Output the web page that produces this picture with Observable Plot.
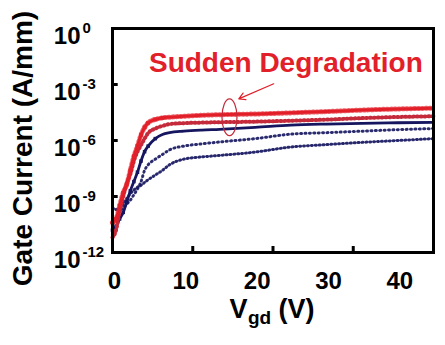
<!DOCTYPE html>
<html>
<head>
<meta charset="utf-8">
<script src="https://cdn.jsdelivr.net/npm/d3@7"></script>
<script src="https://cdn.jsdelivr.net/npm/@observablehq/plot@0.6"></script>
<style>
  html, body { margin: 0; padding: 0; background: #fff; }
  #chart svg { display: block; }
</style>
</head>
<body>
<div id="chart"></div>
<script>
// Gate-drain voltage (V) sample points
const vgd = [0, 0.5, 1, 1.5, 2, 2.5, 3, 3.5, 4, 4.5, 5, 6, 7, 8, 10, 12.5, 15, 20, 25, 30, 35, 40, 45];
// log10 of gate current (A/mm) for each curve
const redThick = [-10.4, -10.2, -9.5, -8.8, -8.35, -7.6, -6.85, -6.3, -5.7, -5.3, -5.05, -4.87, -4.79, -4.75, -4.7, -4.65, -4.62, -4.58, -4.52, -4.45, -4.37, -4.31, -4.27];
const redThin  = [-11.2, -10.8, -9.8, -9.0, -8.3, -7.8, -7.1, -6.6, -6.25, -5.9, -5.6, -5.36, -5.22, -5.12, -5.07, -5.04, -5.02, -4.99, -4.94, -4.88, -4.8, -4.74, -4.7];
const navyThick = [-10.8, -10.6, -10.2, -9.85, -9.3, -8.7, -8.2, -7.7, -7.1, -6.6, -6.3, -5.9, -5.68, -5.58, -5.5, -5.44, -5.4, -5.3, -5.18, -5.12, -5.08, -5.05, -5.03];
const navyDotA = [-10.5, -10.2, -9.8, -9.6, -9.4, -9.2, -8.9, -8.6, -8.2, -7.6, -7.3, -7.0, -6.75, -6.5, -6.3, -6.18, -6.08, -5.9, -5.66, -5.58, -5.5, -5.42, -5.36];
const navyDotB = [-9.6, -9.7, -9.6, -9.4, -9.1, -8.85, -8.65, -8.5, -8.4, -8.25, -8.1, -7.85, -7.6, -7.3, -7.0, -6.88, -6.8, -6.62, -6.35, -6.22, -6.1, -6.0, -5.9];

const xTickLabels = [0, 10, 20, 30, 40];
const xTickMarks = [11.25, 22.5, 33.75];
const yExponents = [0, -3, -6, -9, -12];
const yTickMarks = [-3, -6, -9];

const RED = "#e2202a";
const RED_THIN = "#c42a3a";
const NAVY = "#161660";

const rows = s => vgd.map((v, i) => ({v, i: Math.pow(10, s[i])}));
const rT = rows(redThick), rN = rows(redThin), nT = rows(navyThick), dA = rows(navyDotA), dB = rows(navyDotB);

const ellipseSymbol = {
  draw(context, size) {
    const r = Math.sqrt(size / Math.PI), rx = r, ry = r * 2.45, k = 0.5523;
    context.moveTo(rx, 0);
    context.bezierCurveTo(rx, ry * k, rx * k, ry, 0, ry);
    context.bezierCurveTo(-rx * k, ry, -rx, ry * k, -rx, 0);
    context.bezierCurveTo(-rx, -ry * k, -rx * k, -ry, 0, -ry);
    context.bezierCurveTo(rx * k, -ry, rx, -ry * k, rx, 0);
    context.closePath();
  }
};

const FONT = "'Liberation Sans', Arial, sans-serif";
const lineOpts = {x: "v", y: "i", curve: "monotone-x"};
const txt = {fontWeight: "bold", fill: "#000", lineAnchor: "middle"};

const chart = Plot.plot({
  width: 445,
  height: 345,
  marginLeft: 112,
  marginRight: 12,
  marginTop: 28,
  marginBottom: 93,
  style: {fontFamily: FONT, fontWeight: "bold", background: "#fff", overflow: "visible"},
  x: {domain: [0, 45], axis: null},
  y: {type: "log", domain: [1e-12, 1], axis: null},
  marks: [
    // dotted navy curves
    Plot.line(dB, {...lineOpts, stroke: NAVY, strokeWidth: 0.6, strokeOpacity: 0.8}),
    Plot.line(dB, {...lineOpts, stroke: NAVY, strokeWidth: 3, strokeDasharray: "0.9,3", strokeOpacity: 0.9}),
    Plot.line(dA, {...lineOpts, stroke: NAVY, strokeWidth: 0.4, strokeOpacity: 0.6}),
    Plot.line(dA, {...lineOpts, stroke: NAVY, strokeWidth: 3, strokeDasharray: "0.9,3.5", strokeOpacity: 0.9}),
    // navy thick
    Plot.line(nT, {...lineOpts, stroke: NAVY, strokeWidth: 2.8}),
    Plot.dot(nT.slice(0, 12), {x: "v", y: "i", symbol: "square", r: 2, fill: NAVY}),
    // thin red
    Plot.line(rN, {...lineOpts, stroke: RED_THIN, strokeWidth: 1.1}),
    Plot.line(rN, {...lineOpts, stroke: RED_THIN, strokeWidth: 4, strokeDasharray: "0.9,3"}),
    // red thick
    Plot.line(rT, {...lineOpts, stroke: RED, strokeWidth: 3}),
    Plot.line(rT, {...lineOpts, stroke: RED, strokeWidth: 5, strokeDasharray: "0.9,3", strokeOpacity: 0.7}),
    Plot.dot(rT.slice(0, 13), {x: "v", y: "i", symbol: "square", r: 2.2, fill: RED}),
    // frame and inward ticks
    Plot.frame({stroke: "#000", strokeWidth: 3}),
    Plot.ruleX(xTickMarks, {x: d => d, y1: 1e-12, y2: Math.pow(10, -11.68), stroke: "#000", strokeWidth: 3}),
    Plot.ruleY(yTickMarks, {y: d => Math.pow(10, d), x1: 0, x2: 0.8, stroke: "#000", strokeWidth: 3}),
    // x tick labels
    Plot.text(xTickLabels, {...txt, x: d => d, frameAnchor: "bottom", dy: 29, dx: 2, text: d => String(d), textAnchor: "middle", fontSize: 24}),
    // y tick labels 10^n
    Plot.text(yExponents, {...txt, y: d => Math.pow(10, d), frameAnchor: "left", dx: -32, dy: 8, text: () => "10", textAnchor: "end", fontSize: 24}),
    Plot.text(yExponents, {...txt, y: d => Math.pow(10, d), frameAnchor: "left", dx: -30, dy: 0, text: d => (d === 0 ? "0" : "-" + String(-d)), textAnchor: "start", fontSize: 15}),
    // axis titles
    Plot.text(["Gate Current (A/mm)"], {...txt, frameAnchor: "left", dx: -89, dy: 8, rotate: -90, textAnchor: "middle", text: d => d, fontSize: 28}),
    Plot.text(["V"], {...txt, frameAnchor: "bottom", dx: -25.5, dy: 57, text: d => d, textAnchor: "end", fontSize: 27}),
    Plot.text(["gd"], {...txt, frameAnchor: "bottom", dx: -25, dy: 65, text: d => d, textAnchor: "start", fontSize: 19}),
    Plot.text(["(V)"], {...txt, frameAnchor: "bottom", dx: 5.5, dy: 57, text: d => d, textAnchor: "start", fontSize: 27}),
    // annotation
    Plot.text(["Sudden Degradation"], {x: 24.3, y: Math.pow(10, -1.87), text: d => d, fontSize: 28, fontWeight: "bold", fill: RED, lineAnchor: "middle"}),
    Plot.arrow([0], {x1: 22.6, y1: Math.pow(10, -2.96), x2: 17.7, y2: Math.pow(10, -3.77), stroke: RED, strokeWidth: 1.2, headLength: 9}),
    Plot.dot([0], {x: 16.4, y: Math.pow(10, -4.75), symbol: ellipseSymbol, r: 7.5, stroke: RED_THIN, strokeWidth: 1.2, fill: "none"})
  ]
});
document.getElementById("chart").appendChild(chart);
</script>
</body>
</html>
